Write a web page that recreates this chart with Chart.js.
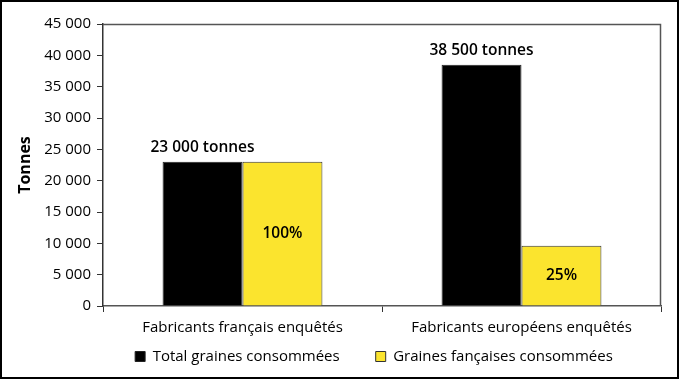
<!DOCTYPE html>
<html>
<head>
<meta charset="utf-8">
<script src="https://cdn.jsdelivr.net/npm/chart.js@4/dist/chart.umd.min.js"></script>
<style>
html,body{margin:0;padding:0;background:#fff;}
#wrap{width:679px;height:379px;position:relative;}
</style>
</head>
<body>
<div id="wrap"><canvas id="c" width="679" height="379"></canvas></div>
<script>
const categories = ["Fabricants français enquêtés", "Fabricants européens enquêtés"];
const seriesNames = ["Total graines consommées", "Graines fançaises consommées"];
const totalValues = [23000, 38500];
const frenchValues = [23000, 9600];
const topLabels = ["23 000 tonnes", "38 500 tonnes"];
const pctLabels = ["100%", "25%"];
const yTicks = [0, 5000, 10000, 15000, 20000, 25000, 30000, 35000, 40000, 45000];

const FONT = "'Open Sans', 'Noto Sans', sans-serif";

function fmt(v){
  const s = String(v);
  return s.length > 3 ? s.slice(0, s.length-3) + " " + s.slice(-3) : s;
}

const labelPlugin = {
  id: 'labels',
  afterLayout(chart){
    const lg = chart.legend;
    if (lg) {
      const dx = 35.5;
      lg.left += dx; lg.right += dx;
      const targetTop = 349 - chart.options.plugins.legend.labels.padding;
      lg.top = targetTop; lg.bottom = chart.height;
    }
  },
  afterDatasetsDraw(chart){
    const ctx = chart.ctx;
    const a = chart.chartArea;
    ctx.save();
    ctx.strokeStyle = '#555';
    ctx.lineWidth = 1.5;
    ctx.beginPath();
    ctx.moveTo(a.left, a.top + 0.5);
    ctx.lineTo(a.right - 0.5, a.top + 0.5);
    ctx.lineTo(a.right - 0.5, a.bottom);
    ctx.stroke();
    ctx.fillStyle = '#000';
    ctx.textAlign = 'center';
    ctx.textBaseline = 'middle';
    ctx.font = "600 15.5px " + FONT;
    const m0 = chart.getDatasetMeta(0);
    m0.data.forEach((bar, i) => {
      ctx.fillText(topLabels[i], bar.x, bar.y - 14);
    });
    const m1 = chart.getDatasetMeta(1);
    m1.data.forEach((bar, i) => {
      ctx.fillText(pctLabels[i], bar.x, (bar.y + bar.base) / 2);
    });
    ctx.restore();
  },
  afterDraw(chart){
    const ctx = chart.ctx;
    ctx.save();
    ctx.strokeStyle = '#000';
    ctx.lineWidth = 2;
    ctx.strokeRect(1, 1, chart.width - 2, chart.height - 2);
    ctx.restore();
  }
};

const chart = new Chart(document.getElementById('c'), {
  type: 'bar',
  data: {
    labels: categories,
    datasets: [
      { label: seriesNames[0], data: totalValues, backgroundColor: '#000000', borderColor: '#222', borderWidth: 1 },
      { label: seriesNames[1], data: frenchValues, backgroundColor: '#FBE42E', borderColor: '#333', borderWidth: 1 }
    ]
  },
  options: {
    responsive: false,
    animation: false,
    events: [],
    layout: { padding: { left: 16, right: 18, top: 24, bottom: 0 } },
    datasets: { bar: { barPercentage: 1.0, categoryPercentage: 0.573 } },
    plugins: {
      legend: {
        position: 'bottom',
        labels: {
          boxWidth: 10, boxHeight: 10, padding: 36, color: '#000',
          font: { family: FONT, size: 15 }
        }
      },
      tooltip: { enabled: false }
    },
    scales: {
      x: {
        offset: true,
        grid: { offset: true, drawOnChartArea: false, drawTicks: true, tickLength: 6, color: '#333' },
        border: { color: '#555', width: 1.5 },
        ticks: { color: '#000', padding: 7, autoSkip: false, font: { family: FONT, size: 15 }, maxRotation: 0 },
        afterFit(scale){ scale.height = 53; }
      },
      y: {
        min: 0, max: 45000,
        afterBuildTicks(scale){ scale.ticks = yTicks.map(v => ({ value: v })); },
        grid: { drawOnChartArea: false, drawTicks: true, tickLength: 6, color: '#333' },
        border: { color: '#333', width: 1.5 },
        ticks: { color: '#000', padding: 6, font: { family: FONT, size: 15 }, callback: v => fmt(v) },
        title: { display: true, text: 'Tonnes', color: '#000', padding: { top: 0, bottom: 0 }, font: { family: FONT, size: 16, weight: 'bold' } },
        afterFit(scale){ scale.width = 87; }
      }
    }
  },
  plugins: [labelPlugin]
});

const lgBox = chart.legend;
if (lgBox) {
  const origFit = lgBox.fit.bind(lgBox);
  lgBox.fit = function(){ origFit(); this.height = 20; };
  chart.update();
}
</script>
</body>
</html>
